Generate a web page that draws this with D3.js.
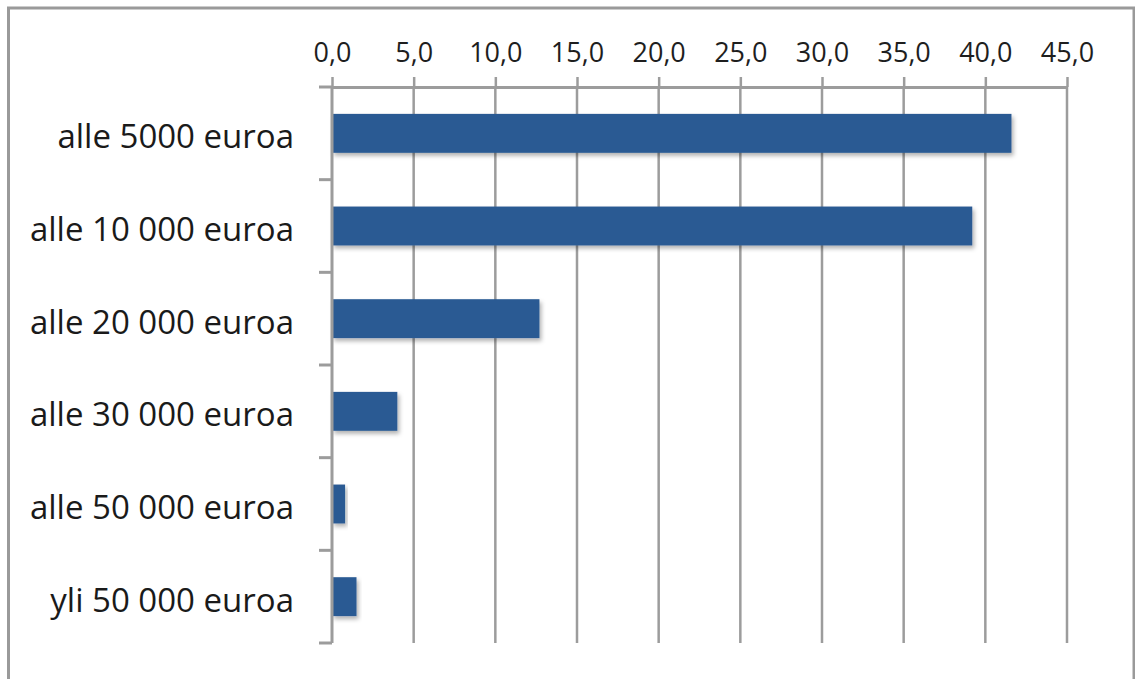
<!DOCTYPE html>
<html>
<head>
<meta charset="utf-8">
<script src="https://cdn.jsdelivr.net/npm/d3@7"></script>
<style>
  html, body { margin: 0; padding: 0; background: #fff; }
  svg { display: block; }
</style>
</head>
<body>
<svg id="chart" width="1135" height="679"></svg>
<script>
// Income brackets and their shares (%)
const categories = [
  "alle 5000 euroa",
  "alle 10 000 euroa",
  "alle 20 000 euroa",
  "alle 30 000 euroa",
  "alle 50 000 euroa",
  "yli 50 000 euroa"
];
const values = [41.6, 39.2, 12.7, 4.0, 0.8, 1.5];
const tickValues = [0, 5, 10, 15, 20, 25, 30, 35, 40, 45];

const svg = d3.select("#chart");

const plot = { left: 332, right: 1067, top: 87, bottom: 643 };

// Finnish number format: comma as decimal separator
const fi = d3.formatLocale({ decimal: ",", thousands: "\u00a0", grouping: [3], currency: ["", " €"] });
const fmt = fi.format(".1f");

const x = d3.scaleLinear().domain([0, 45]).range([plot.left, plot.right]);
const y = d3.scaleBand()
  .domain(categories)
  .range([plot.top, plot.bottom])
  .paddingInner(0.58)
  .paddingOuter(0.29);

// soft drop shadow under the bars
const defs = svg.append("defs");
const f = defs.append("filter").attr("id", "shadow")
  .attr("x", "-10%").attr("y", "-30%").attr("width", "130%").attr("height", "180%");
f.append("feDropShadow")
  .attr("dx", 2).attr("dy", 3).attr("stdDeviation", 2)
  .attr("flood-color", "#000").attr("flood-opacity", 0.3);

// outer frame
svg.append("rect")
  .attr("x", 8.5).attr("y", 8)
  .attr("width", 1125.5).attr("height", 720)
  .attr("fill", "none")
  .attr("stroke", "#9a9a9a")
  .attr("stroke-width", 3);

const gridColor = "#9c9c9c";

// vertical gridlines
svg.append("g")
  .selectAll("line")
  .data(tickValues.filter(d => d > 0))
  .join("line")
  .attr("x1", d => x(d)).attr("x2", d => x(d))
  .attr("y1", plot.top).attr("y2", plot.bottom)
  .attr("stroke", gridColor)
  .attr("stroke-width", 2.5);

// bars
svg.append("g")
  .selectAll("rect")
  .data(categories.map((c, i) => ({ c, v: values[i] })))
  .join("rect")
  .attr("x", x(0))
  .attr("y", d => y(d.c))
  .attr("width", d => x(d.v) - x(0))
  .attr("height", y.bandwidth())
  .attr("fill", "#295a93")
  .attr("filter", "url(#shadow)");

// top value axis
const axis = d3.axisTop(x)
  .tickValues(tickValues)
  .tickFormat(fmt)
  .tickSizeInner(10)
  .tickSizeOuter(0)
  .tickPadding(15);

const gx = svg.append("g")
  .attr("transform", `translate(0,${plot.top})`)
  .call(axis);
gx.select(".domain").attr("stroke", gridColor).attr("stroke-width", 3);
gx.selectAll(".tick line").attr("stroke", gridColor).attr("stroke-width", 2.5);
gx.selectAll(".tick text")
  .attr("font-family", "'Open Sans', sans-serif")
  .attr("font-size", 27)
  .attr("fill", "#1e1e1e");

// category axis line and boundary ticks
const step = y.step();
const start = plot.top;
svg.append("line")
  .attr("x1", x(0)).attr("x2", x(0))
  .attr("y1", plot.top).attr("y2", plot.bottom)
  .attr("stroke", gridColor).attr("stroke-width", 3);
svg.append("g")
  .selectAll("line")
  .data(d3.range(categories.length + 1))
  .join("line")
  .attr("x1", x(0) - 13).attr("x2", x(0))
  .attr("y1", i => start + i * step).attr("y2", i => start + i * step)
  .attr("stroke", gridColor).attr("stroke-width", 3);

// category labels
svg.append("g")
  .selectAll("text")
  .data(categories)
  .join("text")
  .attr("x", x(0) - 38)
  .attr("y", d => y(d) + y.bandwidth() / 2 + 15)
  .attr("text-anchor", "end")
  .attr("font-family", "'Open Sans', sans-serif")
  .attr("font-size", 33)
  .attr("fill", "#1a1a1a")
  .text(d => d);
</script>
</body>
</html>
